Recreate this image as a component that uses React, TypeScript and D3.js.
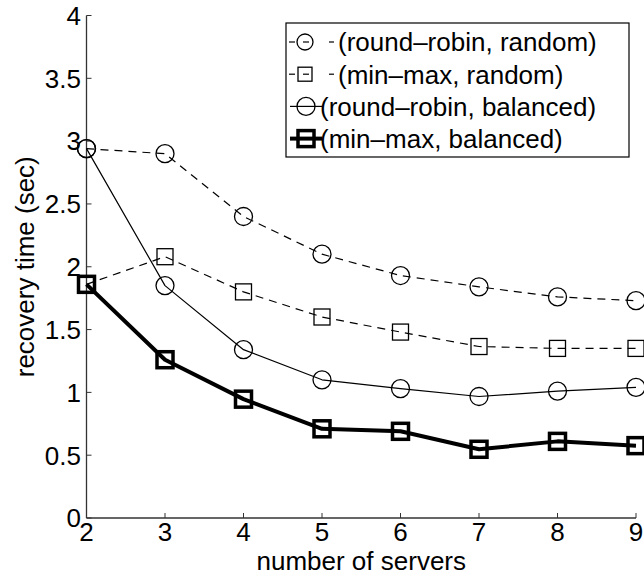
import * as d3 from 'd3';

// number of servers on the x axis
const servers = [2, 3, 4, 5, 6, 7, 8, 9];

// recovery time (sec) per configuration
const rrRandom = [2.94, 2.9, 2.4, 2.1, 1.93, 1.84, 1.76, 1.73];
const mmRandom = [1.86, 2.08, 1.8, 1.6, 1.48, 1.365, 1.35, 1.35];
const rrBalanced = [2.94, 1.85, 1.34, 1.1, 1.03, 0.967, 1.01, 1.04];
const mmBalanced = [1.86, 1.26, 0.946, 0.71, 0.69, 0.547, 0.61, 0.576];

const yTicks = [0, 0.5, 1, 1.5, 2, 2.5, 3, 3.5, 4];
const yTickLabels = ['0', '0.5', '1', '1.5', '2', '2.5', '3', '3.5', '4'];
const xTickLabels = ['2', '3', '4', '5', '6', '7', '8', '9'];

const legendLabels = [
  '(round\u2013robin, random)',
  '(min\u2013max, random)',
  '(round\u2013robin, balanced)',
  '(min\u2013max, balanced)',
];

const FONT = '"Liberation Sans", Arial, Helvetica, sans-serif';

type Series = { values: number[]; marker: 'circle' | 'square'; dash?: string; width: number; markerWidth: number };

const series: Series[] = [
  { values: rrRandom, marker: 'circle', dash: '8,6', width: 1.2, markerWidth: 1.3 },
  { values: mmRandom, marker: 'square', dash: '8,6', width: 1.2, markerWidth: 1.3 },
  { values: rrBalanced, marker: 'circle', width: 1.2, markerWidth: 1.3 },
  { values: mmBalanced, marker: 'square', width: 4, markerWidth: 3.5 },
];

const Marker = ({ kind, cx, cy, sw, r = 9 }: { kind: string; cx: number; cy: number; sw: number; r?: number }) =>
  kind === 'circle' ? (
    <circle cx={cx} cy={cy} r={r} fill="none" stroke="#000" strokeWidth={sw} />
  ) : (
    <rect x={cx - r + 1} y={cy - r + 1} width={2 * r - 2} height={2 * r - 2} fill="none" stroke="#000" strokeWidth={sw} />
  );

export default function App() {
  const W = 644;
  const H = 575;
  const x = d3.scaleLinear().domain([2, 9]).range([86.5, 636]);
  const y = d3.scaleLinear().domain([0, 4]).range([518, 15.5]);

  const line = (vals: number[]) =>
    d3.line<number>().x((_, i) => x(servers[i])).y((d) => y(d))(vals) || '';

  // legend geometry
  const lgX = 286, lgY = 23, lgW = 343, lgH = 134, rowH = 32.2;

  return (
    <svg width={W} height={H} style={{ position: 'absolute', left: 0, top: 0, background: '#fff' }} fontFamily={FONT}>
      {/* axes */}
      <line x1={x(2)} x2={x(2)} y1={y(0)} y2={y(4)} stroke="#333" strokeWidth={1.3} />
      <line x1={x(2)} x2={x(9)} y1={y(0)} y2={y(0)} stroke="#333" strokeWidth={1.3} />
      {yTicks.map((t, i) => (
        <g key={'y' + i}>
          <line x1={x(2)} x2={x(2) + 5} y1={y(t)} y2={y(t)} stroke="#333" strokeWidth={1} />
          <text x={81} y={y(t)} dy="0.36em" textAnchor="end" fontSize={26}>{yTickLabels[i]}</text>
        </g>
      ))}
      {servers.map((s, i) => (
        <g key={'x' + i}>
          <line x1={x(s)} x2={x(s)} y1={y(0)} y2={y(0) - 5} stroke="#333" strokeWidth={1} />
          <text x={x(s)} y={y(0) + 13.5} dy="0.36em" textAnchor="middle" fontSize={26}>{xTickLabels[i]}</text>
        </g>
      ))}
      <text x={(x(2) + x(9)) / 2} y={569.5} textAnchor="middle" fontSize={26}>number of servers</text>
      <text transform={`translate(34, ${(y(0) + y(4)) / 2}) rotate(-90)`} textAnchor="middle" fontSize={26}>recovery time (sec)</text>

      {/* data */}
      {series.map((s, k) => (
        <g key={'s' + k}>
          <path d={line(s.values)} fill="none" stroke="#000" strokeWidth={s.width} strokeDasharray={s.dash} strokeLinejoin="round" />
          {s.values.map((v, i) => (
            <Marker key={i} kind={s.marker} cx={x(servers[i])} cy={y(v)} sw={s.markerWidth} />
          ))}
        </g>
      ))}

      {/* legend */}
      <rect x={lgX} y={lgY} width={lgW} height={lgH} fill="#fff" stroke="#000" strokeWidth={1.2} />
      {series.map((s, k) => {
        const cy = lgY + 19 + k * rowH;
        const dashed = !!s.dash;
        return (
          <g key={'l' + k}>
            {dashed ? (
              <>
                <line x1={289} x2={295} y1={cy} y2={cy} stroke="#000" strokeWidth={s.width} />
                <line x1={303} x2={309} y1={cy} y2={cy} stroke="#000" strokeWidth={s.width} />
                <line x1={329} x2={334} y1={cy} y2={cy} stroke="#000" strokeWidth={s.width} />
              </>
            ) : (
              <line x1={290} x2={322} y1={cy} y2={cy} stroke="#000" strokeWidth={s.width} />
            )}
            <Marker kind={s.marker} cx={dashed ? 305 : 306} cy={cy} sw={s.markerWidth} r={dashed ? 8 : 9} />
            <text x={dashed ? 338 : 320} y={cy} dy="0.36em" fontSize={26}>{legendLabels[k]}</text>
          </g>
        );
      })}
    </svg>
  );
}
